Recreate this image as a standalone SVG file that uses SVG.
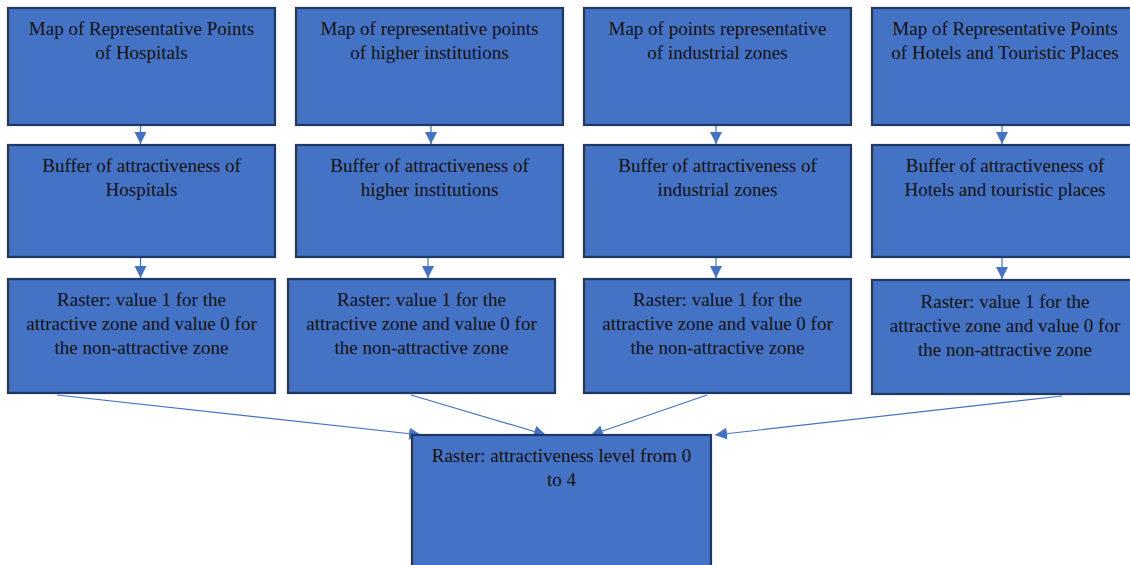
<svg xmlns="http://www.w3.org/2000/svg" width="1130" height="565" viewBox="0 0 1130 565">
<style>
.box{fill:#4472c4;stroke:#203864;stroke-width:2.2}
.t{font-family:"Liberation Serif","Times New Roman",serif;font-size:19px;fill:#111111;text-anchor:middle}
.c{stroke:#4472c4;stroke-width:1.2;fill:none;marker-end:url(#ah)}
</style>
<defs>
<marker id="ah" markerUnits="userSpaceOnUse" markerWidth="14" markerHeight="14" refX="12" refY="6" orient="auto">
<path d="M0,0 L12,6 L0,12 Z" fill="#4472c4"/>
</marker>
</defs>
<rect width="1130" height="565" fill="#ffffff"/>
<g id="connectors">
<line class="c" x1="140.5" y1="126" x2="140.5" y2="144"/>
<line class="c" x1="431" y1="126" x2="431" y2="144"/>
<line class="c" x1="716" y1="126" x2="716" y2="144"/>
<line class="c" x1="1002" y1="126" x2="1002" y2="144"/>
<line class="c" x1="140.5" y1="258" x2="140.5" y2="278"/>
<line class="c" x1="428" y1="258" x2="428" y2="278"/>
<line class="c" x1="716" y1="258" x2="716" y2="278"/>
<line class="c" x1="1002" y1="258" x2="1002" y2="279"/>
<line class="c" x1="57" y1="395" x2="421" y2="435"/>
<line class="c" x1="411" y1="395" x2="546" y2="435"/>
<line class="c" x1="707" y1="395" x2="591" y2="435"/>
<line class="c" x1="1062" y1="396" x2="715" y2="435"/>
</g>
<g id="n1">
<rect class="box" x="8" y="8" width="267" height="117"/>
<text class="t" x="141.5" y="35">Map of Representative Points</text>
<text class="t" x="141.5" y="59">of Hospitals</text>
</g>
<g id="n2">
<rect class="box" x="296" y="8" width="267" height="117"/>
<text class="t" x="429.5" y="35">Map of representative points</text>
<text class="t" x="429.5" y="59">of higher institutions</text>
</g>
<g id="n3">
<rect class="box" x="584" y="8" width="267" height="117"/>
<text class="t" x="717.5" y="35">Map of points representative</text>
<text class="t" x="717.5" y="59">of industrial zones</text>
</g>
<g id="n4">
<rect class="box" x="872" y="8" width="267" height="117"/>
<text class="t" x="1005" y="35">Map of Representative Points</text>
<text class="t" x="1005" y="59">of Hotels and Touristic Places</text>
</g>
<g id="n5">
<rect class="box" x="8" y="145" width="267" height="112"/>
<text class="t" x="141.5" y="172">Buffer of attractiveness of</text>
<text class="t" x="141.5" y="196">Hospitals</text>
</g>
<g id="n6">
<rect class="box" x="296" y="145" width="267" height="112"/>
<text class="t" x="429.5" y="172">Buffer of attractiveness of</text>
<text class="t" x="429.5" y="196">higher institutions</text>
</g>
<g id="n7">
<rect class="box" x="584" y="145" width="267" height="112"/>
<text class="t" x="717.5" y="172">Buffer of attractiveness of</text>
<text class="t" x="717.5" y="196">industrial zones</text>
</g>
<g id="n8">
<rect class="box" x="872" y="145" width="267" height="112"/>
<text class="t" x="1005" y="172">Buffer of attractiveness of</text>
<text class="t" x="1005" y="196">Hotels and touristic places</text>
</g>
<g id="n9">
<rect class="box" x="8" y="279" width="267" height="114"/>
<text class="t" x="141.5" y="306">Raster: value 1 for the</text>
<text class="t" x="141.5" y="330">attractive zone and value 0 for</text>
<text class="t" x="141.5" y="354">the non-attractive zone</text>
</g>
<g id="n10">
<rect class="box" x="288" y="279" width="267" height="114"/>
<text class="t" x="421.5" y="306">Raster: value 1 for the</text>
<text class="t" x="421.5" y="330">attractive zone and value 0 for</text>
<text class="t" x="421.5" y="354">the non-attractive zone</text>
</g>
<g id="n11">
<rect class="box" x="584" y="279" width="267" height="114"/>
<text class="t" x="717.5" y="306">Raster: value 1 for the</text>
<text class="t" x="717.5" y="330">attractive zone and value 0 for</text>
<text class="t" x="717.5" y="354">the non-attractive zone</text>
</g>
<g id="n12">
<rect class="box" x="872" y="280" width="267" height="114"/>
<text class="t" x="1005" y="308">Raster: value 1 for the</text>
<text class="t" x="1005" y="332">attractive zone and value 0 for</text>
<text class="t" x="1005" y="356">the non-attractive zone</text>
</g>
<g id="n13">
<rect class="box" x="412" y="435" width="299" height="140"/>
<text class="t" x="561.5" y="462">Raster: attractiveness level from 0</text>
<text class="t" x="561.5" y="486">to 4</text>
</g>
</svg>
